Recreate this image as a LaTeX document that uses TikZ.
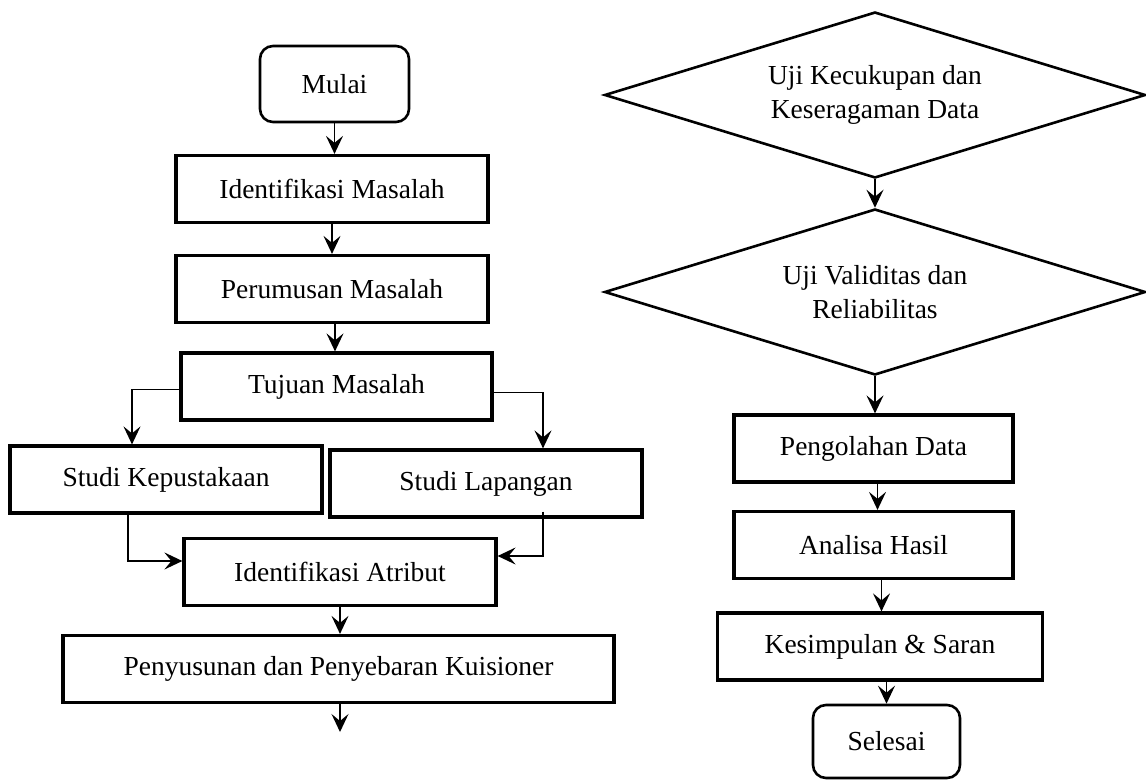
\documentclass[tikz,border=0pt]{standalone}
\usepackage{fontspec}
\setmainfont{Liberation Serif}
\usetikzlibrary{arrows.meta,shapes.geometric,calc}
\tikzset{
	procbox/.style={draw, line width=3.2pt, inner sep=0, minimum height=67pt},
	termbox/.style={draw, line width=2.6pt, rounded corners=13pt, inner sep=0},
	testbox/.style={draw, diamond, aspect=3.26, line width=2.6pt, inner sep=0, align=center,
		minimum width=541pt, minimum height=166pt}
}

\begin{document}
\begin{tikzpicture}[->,>={Stealth[length=18pt,width=17pt,inset=7pt]},
				line width=1.6pt, x=1pt, y=-1pt, font=\fontsize{27.5}{34}\selectfont]
				\useasboundingbox (0,0) rectangle (1146,781);
				% kolom kiri
				\node[termbox, minimum width=149pt, minimum height=76pt] (mulai) at (334.5, 84) {Mulai};
				\node[procbox, minimum width=312pt] (idmas) at (332, 189) {Identifikasi Masalah};
				\node[procbox, minimum width=312pt] (rumus) at (332, 289) {Perumusan Masalah};
				\node[procbox, minimum width=311pt] (tujuan) at (336.5, 386.5) {Tujuan Masalah};
				\node[procbox, minimum width=312pt] (pustaka) at (166, 479.5) {Studi Kepustakaan};
				\node[procbox, minimum width=312pt] (lapangan) at (486, 483.5) {Studi Lapangan};
				\node[procbox, minimum width=312pt] (atribut) at (340, 572) {Identifikasi Atribut};
				\node[procbox, minimum width=551pt] (kuisioner) at (338.5, 669) {Penyusunan dan Penyebaran Kuisioner};
				\coordinate (akhir) at (340, 732);
				\draw (mulai.south) -- (mulai.south |- idmas.north);
				\draw (idmas.south) -- (idmas.south |- rumus.north);
				\draw ([xshift=3pt]rumus.south) -- ([xshift=3pt]rumus.south |- tujuan.north);
				\draw ([yshift=-3pt]tujuan.west) -| ([xshift=-34pt]pustaka.north);
				\draw ([yshift=-6pt]tujuan.east) -| ([xshift=57pt]lapangan.north);
				\draw ([xshift=-38pt]pustaka.south) |- ([yshift=11pt]atribut.west);
				\draw ([xshift=57pt,yshift=7pt]lapangan.south) |- ([yshift=16pt]atribut.east);
				\draw (atribut.south) -- (atribut.south |- kuisioner.north);
				\draw (kuisioner.south -| akhir) -- (akhir);
				% kolom kanan
				\node[testbox] (ujicukup) at (875, 95) {Uji Kecukupan dan\\Keseragaman Data};
				\node[testbox] (ujivalid) at (875, 292) {Uji Validitas dan\\Reliabilitas};
				\node[procbox, minimum width=279pt] (olah) at (873.5, 448.5) {Pengolahan Data};
				\node[procbox, minimum width=279pt] (analisa) at (873.5, 545) {Analisa Hasil};
				\node[procbox, minimum width=325pt] (simpul) at (880, 646.5) {Kesimpulan \& Saran};
				\node[termbox, minimum width=147pt, minimum height=73pt] (selesai) at (886.5, 741.5) {Selesai};
				\draw (ujicukup.south) -- (ujivalid.north);
				\draw (ujivalid.south) -- (ujivalid.south |- olah.north);
				\draw ([xshift=4pt]olah.south) -- ([xshift=4pt]olah.south |- analisa.north);
				\draw ([xshift=8pt]analisa.south) -- ([xshift=8pt]analisa.south |- simpul.north);
				\draw (selesai.north |- simpul.south) -- (selesai.north);
			\end{tikzpicture}
\end{document}
